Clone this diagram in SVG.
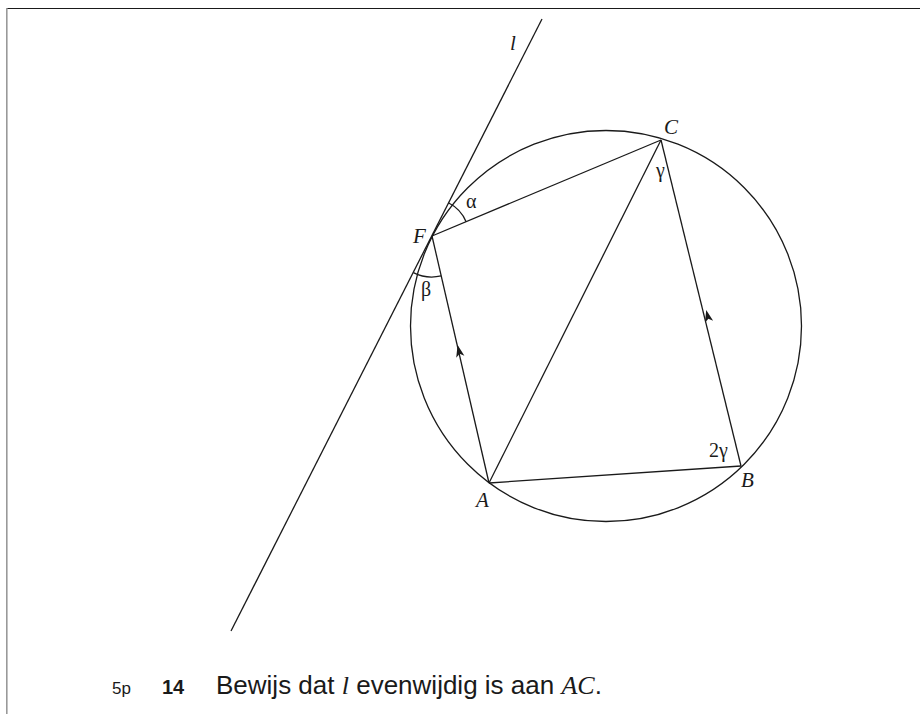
<svg xmlns="http://www.w3.org/2000/svg" width="920" height="714" viewBox="0 0 920 714">
<style>
.ln{stroke:#1a1a1a;stroke-width:1.3;fill:none}
.lab{font-family:"Liberation Serif",serif;font-style:italic;font-size:21px;fill:#1a1a1a}
.gr{font-family:"Liberation Serif",serif;font-size:20px;fill:#1a1a1a}
.txt{font-family:"Liberation Sans",Arial,sans-serif;fill:#1a1a1a}
.it{font-family:"Liberation Serif",serif;font-style:italic}
</style>
<defs>
<path id="ah" d="M0,0 L-12,-4.2 L-9,0 L-12,4.2 Z" fill="#1a1a1a"/>
</defs>
<rect width="920" height="714" fill="#fff"/>
<g id="frame">
<line x1="6" y1="8.5" x2="920" y2="8.5" stroke="#1a1a1a" stroke-width="1.2"/>
<line x1="6.8" y1="8" x2="6.8" y2="714" stroke="#999" stroke-width="1.6"/>
</g>
<g id="circle"><circle class="ln" cx="606" cy="326" r="195.5"/></g>
<g id="connectors">
<line id="line-l" class="ln" x1="231" y1="631" x2="542" y2="19"/>
<line id="FC" class="ln" x1="432" y1="236" x2="661" y2="140"/>
<line id="FA" class="ln" x1="432" y1="236" x2="489" y2="483"/>
<line id="AC" class="ln" x1="489" y1="483" x2="661" y2="140"/>
<line id="AB" class="ln" x1="489" y1="483" x2="741" y2="466"/>
<line id="BC" class="ln" x1="741" y1="466" x2="661" y2="140"/>
<use href="#ah" transform="translate(457.6,345) rotate(-103)"/>
<use href="#ah" transform="translate(706.2,310) rotate(-103.8)"/>
<path id="arc-alpha" class="ln" d="M448.8,203 A37,37 0 0 1 466.1,221.7"/>
<path id="arc-beta" class="ln" d="M413.4,272.6 A41,41 0 0 0 441.2,275.9"/>
</g>
<g id="node-F"><text class="lab" x="413" y="243">F</text></g>
<g id="node-C"><text class="lab" x="664" y="134">C</text></g>
<g id="node-A"><text class="lab" x="476" y="507">A</text></g>
<g id="node-B"><text class="lab" x="741" y="487">B</text></g>
<g id="label-l"><text class="lab" x="510" y="50">l</text></g>
<g id="label-alpha"><text class="gr" x="466" y="208">α</text></g>
<g id="label-beta"><text class="gr" x="421" y="296">β</text></g>
<g id="label-gamma"><text class="gr" x="656" y="177">γ</text></g>
<g id="label-2gamma"><text class="gr" x="709" y="457">2γ</text></g>
<g id="question">
<text class="txt" x="112" y="694" font-size="17">5p</text>
<text class="txt" x="162" y="694" font-size="20" font-weight="bold">14</text>
<text class="txt" x="216" y="694" font-size="26">Bewijs dat <tspan class="it">l</tspan> evenwijdig is aan <tspan class="it">AC</tspan>.</text>
</g>
</svg>
